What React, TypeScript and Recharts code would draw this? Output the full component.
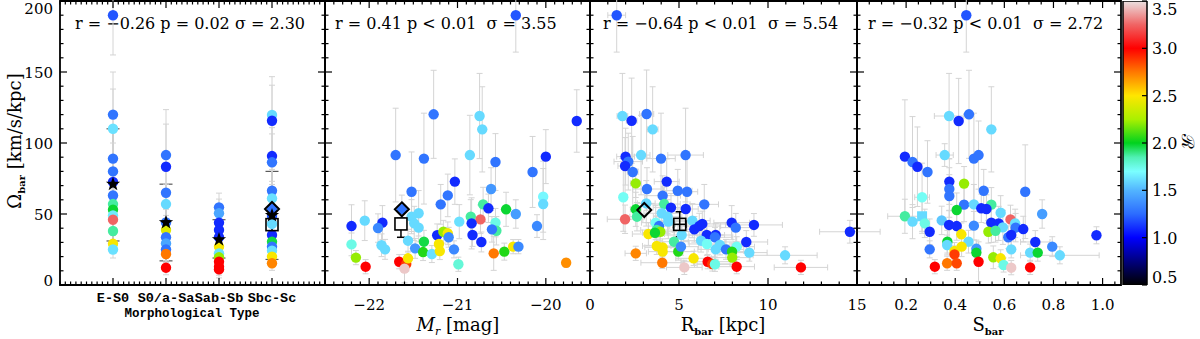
import React from "react";
import {
  Bar,
  BarChart,
  ErrorBar,
  ReferenceArea,
  Scatter,
  ScatterChart,
  XAxis,
  YAxis,
} from "recharts";

// ---------- data ----------

// panel 1: Omega_bar against morphological type (1..4)
const TYPE_LABELS = ["E-S0", "S0/a-Sa", "Sab-Sb", "Sbc-Sc"];
const TYPE_CATS = [1, 2, 3, 4];
const TYPE_X = [
  1, 1, 1, 1, 1, 1, 1, 1, 1, 1, 1, 1, 1, 1,
  2, 2, 2, 2, 2, 2, 2, 2, 2, 2, 2,
  3, 3, 3, 3, 3, 3, 3, 3, 3, 3, 3,
  4, 4, 4, 4, 4, 4, 4, 4, 4, 4, 4, 4, 4, 4, 4,
];
const TYPE_Y = [
  190, 120, 110, 89, 80, 72.5, 63, 57, 53, 49, 46, 38, 29, 25,
  91.5, 83.3, 65, 57, 44, 38.7, 33.6, 29.3, 25, 21.8, 12.2,
  54.7, 50.5, 43.9, 38.7, 33.6, 27, 22.3, 19.5, 16.4, 12.9, 11,
  119.7, 115.7, 90.8, 86.4, 66.4, 61, 53.5, 48.6, 43, 35.2, 30.5, 27, 24.2, 20, 15.3,
];
const TYPE_R = [
  1.2, 1.28, 1.62, 1.28, 1.28, 1.1, 1.28, 1.87, 1.98, 1.65, 3.25, 1.87, 2.48, 1.62,
  1.28, 1.1, 1.28, 1.6, 1.28, 2.4, 1.28, 1.45, 1.28, 2.75, 3.0,
  1.28, 1.45, 1.1, 1.1, 1.1, 2.48, 1.62, 2.22, 3.0, 3.0, 3.0,
  1.6, 1.1, 1.1, 1.28, 1.28, 1.62, 1.28, 1.2, 1.6, 1.1, 1.96, 1.28, 1.62, 2.48, 2.72,
];
const TYPE_EY = [
  28, 30, 28, 22, 20, 16, 14, 12, 10, 10, 8, 8, 6, 6,
  32, 30, 16, 14, 10, 8, 8, 7, 6, 6, 5,
  10, 10, 9, 8, 8, 6, 6, 5, 5, 6, 6,
  27, 25, 20, 20, 15, 12, 10, 10, 9, 8, 7, 6, 6, 5, 5,
];
const TYPE_MED = [71, 44, 32, 49];
const TYPE_LO = [31, 17, 19, 18];
const TYPE_HI = [110, 71, 46, 80];
const TYPE_DIAMOND = [4, 53.5];
const TYPE_SQUARE = [4, 42.5, 34, 48];

// panel 2: Omega_bar against M_r
const MR_X = [
  -20.34, -21.27, -20.75, -20.72, -19.65, -21.7, -21.38, -20.86, -20.57, -20.0,
  -20.15, -21.03, -21.52, -21.11, -20.62, -21.19, -20.71, -20.03, -20.03, -20.65,
  -20.45, -20.34, -21.63, -21.44, -21.52, -20.85, -20.74, -22.2, -22.05, -21.85,
  -21.9, -21.49, -21.44, -20.84, -20.98, -20.57, -20.56, -20.61, -20.1, -22.2,
  -21.86, -21.82, -21.56, -21.48, -21.38, -21.39, -21.29, -21.23, -21.16, -21.11,
  -21.1, -21.21, -21.2, -21.04, -20.99, -20.83, -20.73, -20.59, -20.47, -20.37,
  -20.31, -19.77, -22.15, -22.04, -21.66, -21.58, -21.56, -21.6,
];
const MR_Y = [
  190, 120.2, 119, 109.6, 115.5, 91.5, 89, 91.5, 86.6, 90.4,
  79.6, 72.8, 65.7, 63.1, 67.6, 56.8, 56.8, 62.2, 57, 54,
  53.3, 50, 53.3, 50.5, 48.1, 48.1, 46.2, 41.5, 45.3, 43.9,
  40.1, 43.4, 40.4, 43.4, 44.6, 43.9, 38.2, 39.2, 41.5, 28.6,
  28, 25.1, 31.2, 25.8, 30.5, 23.2, 21.8, 35, 37.5, 36.4,
  33.6, 28.9, 23.9, 25.1, 14.6, 35.2, 30.3, 22.3, 23.5, 27,
  27, 15.7, 19.3, 12.9, 16.4, 14.8, 18.8, 11.5,
];
const MR_R = [
  1.2, 1.28, 1.6, 1.6, 1.1, 1.28, 1.28, 1.6, 1.28, 1.1,
  1.28, 1.1, 1.28, 1.28, 1.4, 1.28, 1.87, 1.68, 1.6, 1.1,
  1.98, 1.42, 1.28, 1.6, 1.6, 1.87, 3.25, 1.1, 1.6, 1.1,
  1.35, 1.6, 1.6, 1.1, 1.62, 1.75, 1.87, 1.28, 1.35, 1.75,
  1.6, 1.6, 1.6, 1.4, 1.96, 2.05, 1.62, 1.1, 2.22, 2.48,
  1.35, 2.48, 2.48, 1.35, 1.78, 1.1, 1.1, 2.75, 2.05, 2.48,
  1.35, 2.7, 2.22, 3.0, 3.0, 2.88, 2.48, 3.45,
];
const MR_EY = [
  26, 31, 30, 30, 22, 33, 32, 28, 20, 19,
  25, 16, 28, 15, 15, 14, 12, 25, 25, 10,
  12, 10, 10, 16, 12, 12, 10, 15, 14, 12,
  10, 12, 10, 18, 12, 10, 10, 9, 8, 8,
  8, 7, 8, 7, 8, 6, 6, 8, 8, 8,
  7, 7, 6, 6, 5, 8, 7, 12, 6, 5,
  5, 3, 5, 5, 5, 5, 5, 10,
];
const MR_DIAMOND = [-21.63, 53.3];
const MR_SQUARE = [-21.64, 43, 33.6, 47];

// panel 3: Omega_bar against R_bar
const RB_X = [
  1.5, 1.82, 2.34, 3.18, 3.52, 2.0, 2.15, 1.97, 2.4, 2.87,
  3.99, 5.37, 2.57, 4.31, 3.2, 4.93, 5.45, 4.08, 1.87, 6.42,
  4.17, 3.16, 4.55, 5.38, 2.57, 2.64, 1.97, 4.03, 3.69, 3.88,
  4.36, 4.4, 3.75, 3.95, 3.28, 5.75, 5.86, 6.14, 6.31, 5.15,
  6.56, 7.06, 7.02, 7.96, 8.19, 9.21, 6.24, 6.57, 7.3, 7.06,
  7.64, 8.24, 8.78, 8.95, 7.98, 7.99, 10.96, 14.6, 11.85, 8.24,
  6.61, 6.87, 7.02, 5.82, 5.3, 4.06, 2.57, 3.75, 4.08, 4.08,
  4.72, 4.96, 5.11, 3.65,
];
const RB_Y = [
  190, 119, 115.7, 120.4, 109.6, 90.4, 86.9, 83.8, 79.6, 91.5,
  89, 91.5, 71.6, 72.8, 67.6, 66.4, 65.7, 62.9, 61.8, 56.8,
  57, 57.5, 54.5, 53.5, 53.3, 48.1, 46.3, 50.5, 43.9, 41.5,
  48.1, 44.6, 38.7, 37.5, 35.9, 45.3, 39.2, 41.5, 43, 35.2,
  35.2, 35.2, 33.6, 43.9, 40.4, 42.3, 31.2, 28.9, 28.2, 25.1,
  25.1, 27, 30.3, 22.8, 23.5, 19.3, 20.9, 37.5, 12.4, 12.9,
  16.4, 14.8, 14.6, 18.8, 12.4, 15.7, 22.3, 27.5, 26.5, 23.5,
  30.5, 23.5, 27, 36.8,
];
const RB_R = [
  1.2, 1.6, 1.1, 1.28, 1.6, 1.1, 1.28, 1.1, 1.28, 1.6,
  1.28, 1.28, 2.22, 1.1, 1.28, 1.28, 1.28, 1.28, 1.72, 1.28,
  1.87, 1.6, 1.1, 1.1, 1.98, 1.87, 3.25, 1.6, 1.72, 1.28,
  1.6, 1.6, 1.87, 2.22, 2.48, 1.6, 1.1, 1.1, 1.1, 1.6,
  1.1, 1.1, 1.28, 1.1, 1.28, 1.1, 1.6, 1.72, 1.6, 1.6,
  1.28, 1.72, 1.1, 1.6, 2.05, 2.22, 1.6, 1.1, 3.0, 3.0,
  3.0, 2.88, 1.75, 2.48, 3.45, 2.75, 2.72, 2.48, 2.48, 2.48,
  1.87, 2.05, 1.35, 1.98,
];
const RB_EY = [
  26, 30, 30, 31, 30, 20, 20, 20, 25, 28,
  32, 33, 10, 16, 15, 15, 28, 14, 24, 14,
  12, 16, 10, 12, 12, 10, 10, 12, 12, 10,
  12, 12, 10, 8, 8, 12, 9, 9, 9, 8,
  8, 8, 7, 12, 10, 8, 8, 8, 7, 7,
  7, 7, 8, 6, 6, 5, 6, 8, 5, 5,
  5, 5, 5, 5, 5, 4, 5, 6, 6, 6,
  7, 6, 6, 8,
];
const RB_EX = [
  0.5, 0.3, 0.3, 0.4, 0.3, 0.5, 0.8, 0.4, 0.3, 0.5,
  0.8, 1.0, 0.3, 0.7, 0.8, 0.8, 0.6, 1.0, 0.2, 0.8,
  0.9, 0.5, 1.0, 0.7, 0.3, 0.4, 1.0, 1.0, 0.8, 0.6,
  0.8, 1.0, 0.9, 0.8, 0.9, 1.0, 0.7, 1.2, 1.5, 1.2,
  1.0, 0.9, 1.0, 1.0, 0.9, 1.6, 1.0, 1.0, 1.2, 1.0,
  1.0, 1.0, 1.2, 1.0, 1.0, 1.0, 1.8, 1.7, 1.5, 1.0,
  1.5, 1.0, 1.0, 1.0, 1.0, 1.2, 0.6, 0.8, 1.0, 0.8,
  0.8, 0.9, 1.0, 0.7,
];
const RB_DIAMOND = [3.05, 52.8];
const RB_SQUARE = [5.04, 42.7, 34, 51.6, 0.35];

// panel 4: Omega_bar against S_bar
const SB_X = [
  0.445, 0.375, 0.414, 0.456, 0.547, 0.195, 0.226, 0.246, 0.287, 0.357,
  0.476, 0.495, 0.376, 0.436, 0.376, 0.376, 0.516, 0.685, 0.265, 0.436,
  0.476, 0.547, 0.406, 0.506, 0.527, 0.585, 0.754, 0.195, 0.226, 0.265,
  0.276, 0.296, 0.345, 0.375, 0.406, 0.476, 0.547, 0.577, 0.625, 0.644,
  0.646, 0.677, 0.594, 0.535, 0.564, 0.616, 0.628, 0.726, 0.795, 0.826,
  0.975, 0.425, 0.454, 0.426, 0.368, 0.367, 0.397, 0.397, 0.296, 0.486,
  0.486, 0.628, 0.705, 0.736, 0.317, 0.367, 0.406, 0.495, 0.555, 0.585,
  0.597, 0.628, 0.705,
];
const SB_Y = [
  190, 119, 115.5, 120.2, 109.6, 90.4, 86.6, 83.3, 79.6, 91.5,
  89, 91.5, 72.8, 71.4, 67.6, 62.7, 66.4, 65.7, 61.8, 56.6,
  56.8, 56.6, 52.8, 54, 53.5, 50.9, 50, 48.4, 44.6, 48.4,
  43.4, 37.5, 45.5, 42.3, 41.5, 41.8, 43.9, 43.4, 46.2, 43.4,
  40.4, 39.4, 40.6, 37.5, 38.2, 33.6, 35.2, 30.3, 27, 20.9,
  35, 35.7, 30.5, 27, 30.5, 28.2, 23.9, 21.6, 25.1, 25.6,
  22.8, 25.1, 22.8, 22.8, 12.9, 15.3, 15.3, 16.4, 19.5, 18.8,
  14.1, 12.2, 12.4,
];
const SB_R = [
  1.2, 1.6, 1.1, 1.28, 1.6, 1.1, 1.28, 1.1, 1.28, 1.6,
  1.28, 1.28, 1.1, 2.22, 1.28, 1.28, 1.28, 1.28, 1.72, 1.28,
  1.6, 1.87, 1.98, 1.1, 1.1, 1.6, 1.42, 1.87, 1.6, 1.6,
  1.75, 1.1, 1.55, 1.1, 1.1, 1.35, 1.1, 1.1, 3.25, 1.62,
  1.28, 1.1, 1.6, 2.22, 1.87, 1.28, 1.1, 1.1, 1.35, 1.6,
  1.1, 2.48, 1.6, 2.48, 1.98, 1.6, 2.48, 2.88, 1.28, 1.4,
  1.98, 1.6, 1.6, 1.98, 3.0, 2.75, 2.85, 3.0, 2.22, 2.48,
  1.75, 3.45, 3.0,
];
const SB_EY = [
  26, 30, 30, 31, 30, 40, 32, 28, 22, 8,
  32, 24, 16, 12, 15, 15, 15, 33, 24, 12,
  14, 12, 12, 10, 10, 12, 10, 12, 12, 12,
  10, 9, 10, 10, 10, 10, 14, 12, 10, 10,
  10, 9, 12, 8, 8, 8, 8, 8, 7, 6,
  6, 8, 8, 7, 8, 7, 6, 6, 6, 6,
  6, 6, 6, 6, 5, 5, 5, 14, 8, 6,
  5, 5, 5,
];
const SB_EX = [
  0, 0.06, 0, 0, 0, 0, 0, 0, 0, 0.035,
  0, 0, 0, 0, 0, 0, 0, 0, 0.03, 0,
  0, 0, 0, 0, 0, 0, 0, 0.07, 0, 0,
  0, 0, 0, 0, 0, 0, 0, 0, 0, 0,
  0, 0, 0, 0, 0, 0, 0, 0.06, 0, 0.16,
  0, 0, 0, 0, 0, 0, 0, 0, 0, 0,
  0, 0, 0, 0, 0, 0, 0, 0, 0, 0,
  0, 0, 0,
];
const SB_SQUARES = [29];

const STATS = [
  "r = \u22120.26 p = 0.02 \u03c3 = 2.30",
  "r = 0.41 p < 0.01  \u03c3 = 3.55",
  "r = \u22120.64 p < 0.01  \u03c3 = 5.54",
  "r = \u22120.32 p < 0.01  \u03c3 = 2.72",
];

// colour table used for the R ratio
const CMAP_STOPS: [number, string][] = [
  [0.5, "#000000"],
  [0.75, "#00007e"],
  [1.0, "#0000ff"],
  [1.25, "#2c6cff"],
  [1.5, "#52b4ff"],
  [1.7, "#7affff"],
  [1.85, "#50f0b4"],
  [2.0, "#00d21e"],
  [2.25, "#aaf000"],
  [2.5, "#ffe600"],
  [2.75, "#ff7800"],
  [3.0, "#ff0000"],
  [3.25, "#f06464"],
  [3.5, "#ebe1e1"],
];
const CBAR_MIN = 0.5;
const CBAR_MAX = 3.5;
const CBAR_TICKS = [0.5, 1.0, 1.5, 2.0, 2.5, 3.0, 3.5];

// ---------- layout ----------
const W = 1200;
const H = 339;
const TOP = 1;
const BOTTOM = 285;
const PLOT_H = BOTTOM - TOP;
const EDGES = [60, 325, 590, 857, 1121];
const CBAR_LEFT = 1123;
const CBAR_RIGHT = 1147;
const AXIS_H = 30;
const AXIS_W = 10;
const SERIF = "'DejaVu Serif', serif";
const MONO = "'Liberation Mono', monospace";
const ERR_GREY = "#d4d4d4";

const hex = (h: string) => [1, 3, 5].map((i) => parseInt(h.slice(i, i + 2), 16));

function colorFor(v: number) {
  const s = CMAP_STOPS;
  if (v <= s[0][0]) return s[0][1];
  for (let i = 1; i < s.length; i++) {
    if (v <= s[i][0]) {
      const t = (v - s[i - 1][0]) / (s[i][0] - s[i - 1][0]);
      const a = hex(s[i - 1][1]);
      const b = hex(s[i][1]);
      return `rgb(${a.map((c, k) => Math.round(c + (b[k] - c) * t)).join(",")})`;
    }
  }
  return s[s.length - 1][1];
}

function steps(from: number, to: number, step: number) {
  const n = Math.round((to - from) / step);
  return Array.from({ length: n + 1 }, (_, i) => +(from + i * step).toFixed(4));
}

const Y_TICKS = steps(0, 200, 10);
const minus = (v: number) => (v < 0 ? "\u2212" + Math.abs(v) : String(v));

function xTick(majors: number[], label: (v: number) => string, mono = false) {
  return (p: any) => {
    const v = p.payload.value;
    const major = majors.some((m) => Math.abs(m - v) < 1e-6);
    const len = major ? 7 : 3.5;
    const { x, y } = p;
    return (
      <g>
        <line x1={x} x2={x} y1={y} y2={y - len} stroke="#000" strokeWidth={1.2} />
        <line x1={x} x2={x} y1={y - PLOT_H} y2={y - PLOT_H + len} stroke="#000" strokeWidth={1.2} />
        {major && (
          <text
            x={x}
            y={mono ? y + 17 : y + 25}
            textAnchor="middle"
            fontFamily={mono ? MONO : SERIF}
            fontWeight={mono ? "bold" : "normal"}
            fontSize={mono ? 13.5 : 15}
            fill="#000"
          >
            {label(v)}
          </text>
        )}
      </g>
    );
  };
}

function yTick(plotW: number, showLabel: boolean) {
  return (p: any) => {
    const v = p.payload.value;
    const major = v % 50 === 0;
    const len = major ? 7 : 3.5;
    const { x, y } = p;
    const ly = Math.min(Math.max(y, 8), 280);
    return (
      <g>
        <line x1={x} x2={x + len} y1={y} y2={y} stroke="#000" strokeWidth={1.2} />
        <line x1={x + plotW} x2={x + plotW - len} y1={y} y2={y} stroke="#000" strokeWidth={1.2} />
        {showLabel && major && (
          <text x={x - 7} y={ly + 5.5} textAnchor="end" fontFamily={SERIF} fontSize={15} fill="#000">
            {v}
          </text>
        )}
      </g>
    );
  };
}

function cbarTick(p: any) {
  const v = p.payload.value;
  const { x, y } = p;
  const ly = Math.min(Math.max(y, 9), 277);
  return (
    <g>
      <line x1={x} x2={x - 5} y1={y} y2={y} stroke="#000" strokeWidth={1.2} />
      <text x={x + 5} y={ly + 6} fontFamily={SERIF} fontSize={16} fill="#000">
        {v.toFixed(1)}
      </text>
    </g>
  );
}

const dot = (p: any) => {
  const { cx, cy, payload } = p;
  const fill = colorFor(payload.r);
  if (payload.sq) return <rect x={cx - 5} y={cy - 5} width={10} height={10} fill={fill} />;
  return <circle cx={cx} cy={cy} r={5.2} fill={fill} />;
};

const none = () => <g />;

function starShape(p: any) {
  const { cx, cy } = p;
  const pts: string[] = [];
  for (let i = 0; i < 10; i++) {
    const rad = i % 2 === 0 ? 7.5 : 3;
    const a = -Math.PI / 2 + (i * Math.PI) / 5;
    pts.push(`${cx + rad * Math.cos(a)},${cy + rad * Math.sin(a)}`);
  }
  return <polygon points={pts.join(" ")} fill="#000" />;
}

const diamondShape = (p: any) => (
  <polygon
    points={`${p.cx},${p.cy - 7} ${p.cx + 7},${p.cy} ${p.cx},${p.cy + 7} ${p.cx - 7},${p.cy}`}
    fill="none"
    stroke="#000"
    strokeWidth={2}
  />
);

const squareShape = (fill: string) => (p: any) =>
  <rect x={p.cx - 6} y={p.cy - 6} width={12} height={12} fill={fill} stroke="#000" strokeWidth={1.6} />;

// ---------- tables ----------
const TYPE_DATA = TYPE_X.map((x, i) => ({ x, y: TYPE_Y[i], r: TYPE_R[i], ey: TYPE_EY[i] }));
const TYPE_SUMMARY = TYPE_CATS.map((x, i) => ({
  x,
  y: TYPE_MED[i],
  e: [TYPE_MED[i] - TYPE_LO[i], TYPE_HI[i] - TYPE_MED[i]],
}));
const MR_DATA = MR_X.map((x, i) => ({ x, y: MR_Y[i], r: MR_R[i], ey: MR_EY[i] }));
const RB_DATA = RB_X.map((x, i) => ({ x, y: RB_Y[i], r: RB_R[i], ey: RB_EY[i], ex: RB_EX[i] }));
const SB_DATA = SB_X.map((x, i) => ({
  x,
  y: SB_Y[i],
  r: SB_R[i],
  ey: SB_EY[i],
  ex: SB_EX[i],
  sq: SB_SQUARES.includes(i),
}));
const square = (s: number[]) => [{ x: s[0], y: s[1], e: [s[1] - s[2], s[3] - s[1]], ex: s[4] ?? 0 }];
const diamond = (d: number[]) => [{ x: d[0], y: d[1] }];
const CBAR_DATA = [{ k: "R", range: [CBAR_MIN, CBAR_MAX] }];

// ---------- panel ----------
type PanelProps = {
  index: number;
  padLeft: number;
  xDomain: [number, number];
  xTicks: number[];
  xMajors: number[];
  xLabel: (v: number) => string;
  mono?: boolean;
  yLabels?: boolean;
  overlay?: React.ReactNode;
  children?: React.ReactNode;
};

function Panel({ index, padLeft, xDomain, xTicks, xMajors, xLabel, mono, yLabels, overlay, children }: PanelProps) {
  const plotLeft = EDGES[index];
  const plotW = EDGES[index + 1] - plotLeft;
  const padRight = 24;
  const chartLeft = plotLeft - padLeft;
  const statsX = [75, 335, 603, 868][index];
  return (
    <div style={{ position: "absolute", left: chartLeft, top: 0 }}>
      <ScatterChart
        width={plotW + padLeft + padRight}
        height={H}
        margin={{ top: TOP, bottom: H - BOTTOM - AXIS_H, left: padLeft - AXIS_W, right: padRight }}
      >
        <XAxis
          type="number"
          dataKey="x"
          domain={xDomain}
          ticks={xTicks}
          interval={0}
          height={AXIS_H}
          tickSize={0}
          tickMargin={0}
          axisLine={false}
          tickLine={false}
          tick={xTick(xMajors, xLabel, mono)}
          allowDataOverflow
        />
        <YAxis
          type="number"
          dataKey="y"
          domain={[0, 200]}
          ticks={Y_TICKS}
          interval={0}
          width={AXIS_W}
          tickSize={0}
          tickMargin={0}
          axisLine={false}
          tickLine={false}
          tick={yTick(plotW, !!yLabels)}
          allowDataOverflow
        />
        {children}
        <ReferenceArea
          x1={xDomain[0]}
          x2={xDomain[1]}
          y1={0}
          y2={200}
          fill="none"
          stroke="#000"
          strokeWidth={1.8}
          fillOpacity={0}
        />
        <g transform={`translate(${-chartLeft} 0)`}>
          <text
            x={statsX}
            y={29}
            fontFamily={SERIF}
            fontSize={16}
            fill="#000"
            xmlSpace="preserve"
            style={{ whiteSpace: "pre" }}
          >
            {STATS[index]}
          </text>
          {overlay}
        </g>
      </ScatterChart>
    </div>
  );
}

function Points({ data, xErr }: { data: any[]; xErr?: boolean }) {
  return (
    <Scatter data={data} shape={dot} isAnimationActive={false}>
      <ErrorBar dataKey="ey" direction="y" width={3} stroke={ERR_GREY} strokeWidth={1} />
      {xErr && <ErrorBar dataKey="ex" direction="x" width={3} stroke={ERR_GREY} strokeWidth={1} />}
    </Scatter>
  );
}

export default function App() {
  return (
    <div style={{ position: "absolute", left: 0, top: 0, width: W, height: H, background: "#fff" }}>
      {/* panel 1: morphological type */}
      <Panel
        index={0}
        padLeft={60}
        xDomain={[0, 5]}
        xTicks={steps(0, 5, 0.1)}
        xMajors={TYPE_CATS}
        xLabel={(v) => TYPE_LABELS[Math.round(v) - 1]}
        mono
        yLabels
        overlay={
          <>
            <text x={192} y={317} textAnchor="middle" fontFamily={MONO} fontWeight="bold" fontSize={12.5}>
              Morphological Type
            </text>
            <text transform="translate(21 141) rotate(-90)" textAnchor="middle" fontFamily={SERIF} fontSize={18}>
              {"\u03a9"}
              <tspan fontSize={10} fontWeight="bold" dy={4}>
                bar
              </tspan>
              <tspan dy={-4}> [km/s/kpc]</tspan>
            </text>
          </>
        }
      >
        <Scatter data={TYPE_SUMMARY} shape={none} isAnimationActive={false}>
          <ErrorBar dataKey="e" direction="y" width={6.5} stroke="#5a5a5a" strokeWidth={1.2} />
        </Scatter>
        <Points data={TYPE_DATA} />
        <Scatter data={TYPE_SUMMARY} shape={starShape} isAnimationActive={false} />
        <Scatter data={square(TYPE_SQUARE)} shape={squareShape("none")} isAnimationActive={false}>
          <ErrorBar dataKey="e" direction="y" width={4} stroke="#000" strokeWidth={1.5} />
        </Scatter>
        <Scatter data={diamond(TYPE_DIAMOND)} shape={diamondShape} isAnimationActive={false} />
      </Panel>

      {/* panel 2: M_r */}
      <Panel
        index={1}
        padLeft={24}
        xDomain={[-22.5, -19.5]}
        xTicks={steps(-22.5, -19.5, 0.1)}
        xMajors={[-22, -21, -20]}
        xLabel={minus}
        overlay={
          <text x={458} y={331} textAnchor="middle" fontFamily={SERIF} fontSize={18}>
            <tspan fontStyle="italic">M</tspan>
            <tspan fontStyle="italic" fontSize={11} dy={4}>
              r
            </tspan>
            <tspan dy={-4}> [mag]</tspan>
          </text>
        }
      >
        <Points data={MR_DATA} />
        <Scatter data={square(MR_SQUARE)} shape={squareShape("#fff")} isAnimationActive={false}>
          <ErrorBar dataKey="e" direction="y" width={4} stroke="#000" strokeWidth={1.5} />
        </Scatter>
        <Scatter data={diamond(MR_DIAMOND)} shape={diamondShape} isAnimationActive={false} />
      </Panel>

      {/* panel 3: R_bar */}
      <Panel
        index={2}
        padLeft={24}
        xDomain={[0, 15]}
        xTicks={steps(0, 15, 1)}
        xMajors={[0, 5, 10, 15]}
        xLabel={minus}
        overlay={
          <text x={723} y={331} textAnchor="middle" fontFamily={SERIF} fontSize={18}>
            R
            <tspan fontSize={10} fontWeight="bold" dy={4}>
              bar
            </tspan>
            <tspan dy={-4}> [kpc]</tspan>
          </text>
        }
      >
        <Points data={RB_DATA} xErr />
        <Scatter data={square(RB_SQUARE)} shape={squareShape("none")} isAnimationActive={false}>
          <ErrorBar dataKey="e" direction="y" width={4} stroke="#000" strokeWidth={1.5} />
          <ErrorBar dataKey="ex" direction="x" width={4} stroke="#000" strokeWidth={1.5} />
        </Scatter>
        <Scatter data={diamond(RB_DIAMOND)} shape={diamondShape} isAnimationActive={false} />
      </Panel>

      {/* panel 4: S_bar */}
      <Panel
        index={3}
        padLeft={24}
        xDomain={[0, 1.075]}
        xTicks={steps(0.05, 1.05, 0.05)}
        xMajors={[0.2, 0.4, 0.6, 0.8, 1.0]}
        xLabel={(v) => v.toFixed(1)}
        overlay={
          <text x={988} y={331} textAnchor="middle" fontFamily={SERIF} fontSize={18}>
            S
            <tspan fontSize={10} fontWeight="bold" dy={4}>
              bar
            </tspan>
          </text>
        }
      >
        <Points data={SB_DATA} xErr />
      </Panel>

      {/* colour bar */}
      <div style={{ position: "absolute", left: CBAR_LEFT - 20, top: 0 }}>
        <BarChart
          width={CBAR_RIGHT - CBAR_LEFT + 20 + 57}
          height={H}
          data={CBAR_DATA}
          margin={{ top: TOP, bottom: H - BOTTOM, left: 20, right: 57 - AXIS_W }}
          barCategoryGap={0}
        >
          <defs>
            <linearGradient id="cbar" x1="0" y1="1" x2="0" y2="0">
              {CMAP_STOPS.map(([v, c]) => (
                <stop key={v} offset={(v - CBAR_MIN) / (CBAR_MAX - CBAR_MIN)} stopColor={c} />
              ))}
            </linearGradient>
          </defs>
          <XAxis dataKey="k" hide />
          <YAxis
            orientation="right"
            type="number"
            domain={[CBAR_MIN, CBAR_MAX]}
            ticks={CBAR_TICKS}
            interval={0}
            width={AXIS_W}
            tickSize={0}
            tickMargin={0}
            axisLine={false}
            tickLine={false}
            tick={cbarTick}
            allowDataOverflow
          />
          <Bar dataKey="range" fill="url(#cbar)" stroke="#000" strokeWidth={1.5} isAnimationActive={false} />
          <text
            transform={`translate(${1182 - (CBAR_LEFT - 20)} 141) rotate(90)`}
            textAnchor="middle"
            fontFamily={SERIF}
            fontSize={17}
          >
            {"\u211b"}
          </text>
        </BarChart>
      </div>
    </div>
  );
}
